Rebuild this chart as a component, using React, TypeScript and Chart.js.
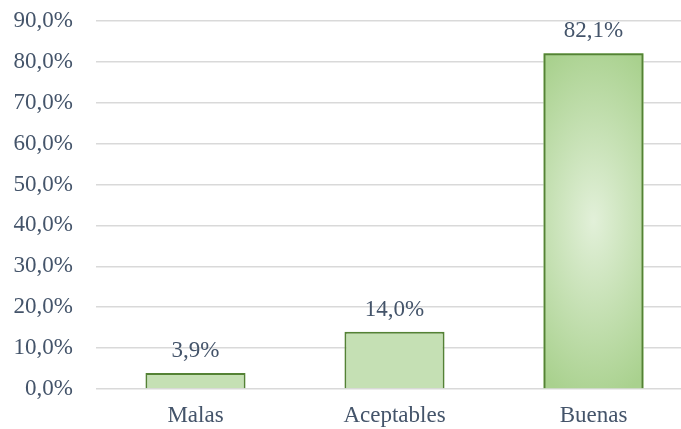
import React, { useEffect, useRef } from "react";
import { Chart, registerables } from "chart.js";

Chart.register(...registerables);

const categories = ["Malas", "Aceptables", "Buenas"];
const values = [3.9, 14.0, 82.1];
const yTicks = [0, 10, 20, 30, 40, 50, 60, 70, 80, 90];

const FONT = "'Liberation Serif', 'Times New Roman', serif";
const TEXT = "#44546A";
const SIZE = 23;
const fmt = (v: number) => v.toFixed(1).replace(".", ",") + "%";

const gradientPlugin = {
  id: "gradFill",
  beforeDatasetsDraw(chart: any) {
    const meta = chart.getDatasetMeta(0);
    const ctx = chart.ctx;
    meta.data.forEach((bar: any, i: number) => {
      if (i !== 2) return;
      const { x, y, base, width } = bar.getProps(["x", "y", "base", "width"], true);
      const left = x - width / 2;
      const top = Math.min(y, base);
      const h = Math.abs(base - y);
      const cy = top + h / 2;
      const rx = width * 0.9;
      const ry = h * 0.55;
      ctx.save();
      ctx.beginPath();
      ctx.rect(left, top, width, h);
      ctx.clip();
      ctx.translate(x, cy);
      ctx.scale(rx / ry, 1);
      const g = ctx.createRadialGradient(0, 0, 0, 0, 0, ry);
      g.addColorStop(0, "#E2F0D9");
      g.addColorStop(1, "#A9D18E");
      ctx.fillStyle = g;
      ctx.fillRect(-ry * 2, -ry * 2, ry * 4, ry * 4);
      ctx.restore();
    });
  },
};

const labelPlugin = {
  id: "valLabels",
  afterDatasetsDraw(chart: any) {
    const meta = chart.getDatasetMeta(0);
    const ctx = chart.ctx;
    ctx.save();
    ctx.font = `${SIZE}px ${FONT}`;
    ctx.fillStyle = TEXT;
    ctx.textAlign = "center";
    ctx.textBaseline = "middle";
    meta.data.forEach((bar: any, i: number) => {
      const { x, y } = bar.getProps(["x", "y"], true);
      ctx.fillText(fmt(values[i]), x, y - 22);
    });
    ctx.restore();
  },
};

export default function App() {
  const ref = useRef<HTMLCanvasElement>(null);
  useEffect(() => {
    if (!ref.current) return;
    const chart = new Chart(ref.current, {
      type: "bar",
      data: {
        labels: categories,
        datasets: [
          {
            data: values,
            backgroundColor: (c: any) => (c.dataIndex === 2 ? "rgba(0,0,0,0)" : "#C5E0B4"),
            borderColor: "#548235",
            borderWidth: 2,
            borderSkipped: "bottom",
            categoryPercentage: 1,
            barPercentage: 0.503,
          },
        ],
      },
      options: {
        responsive: false,
        animation: false,
        layout: { padding: { top: 21, right: 0, left: 0, bottom: 0 } },
        plugins: { legend: { display: false }, tooltip: { enabled: false } },
        scales: {
          x: {
            grid: { display: false, drawTicks: false },
            border: { display: false },
            ticks: { color: TEXT, font: { family: FONT, size: SIZE }, padding: 13 },
            afterFit: (s: any) => {
              s.height = 40;
              s.paddingLeft = 0;
              s.paddingRight = 0;
            },
          },
          y: {
            min: 0,
            max: 90,
            afterBuildTicks: (s: any) => {
              s.ticks = yTicks.map((v) => ({ value: v }));
            },
            grid: { color: "#D9D9D9", lineWidth: 1.5, drawTicks: false },
            border: { display: false },
            ticks: {
              color: TEXT,
              font: { family: FONT, size: SIZE },
              padding: 23,
              callback: (v: any) => fmt(Number(v)),
            },
            afterFit: (s: any) => {
              s.width = 96;
              s.paddingTop = 0;
              s.paddingBottom = 0;
            },
          },
        },
      },
      plugins: [gradientPlugin, labelPlugin],
    });
    return () => chart.destroy();
  }, []);
  return (
    <div
      style={{
        position: "fixed",
        left: 0,
        top: 0,
        width: 681,
        height: 429,
        overflow: "hidden",
        background: "#fff",
      }}
    >
      <canvas ref={ref} width={693} height={429} style={{ display: "block" }} />
    </div>
  );
}
